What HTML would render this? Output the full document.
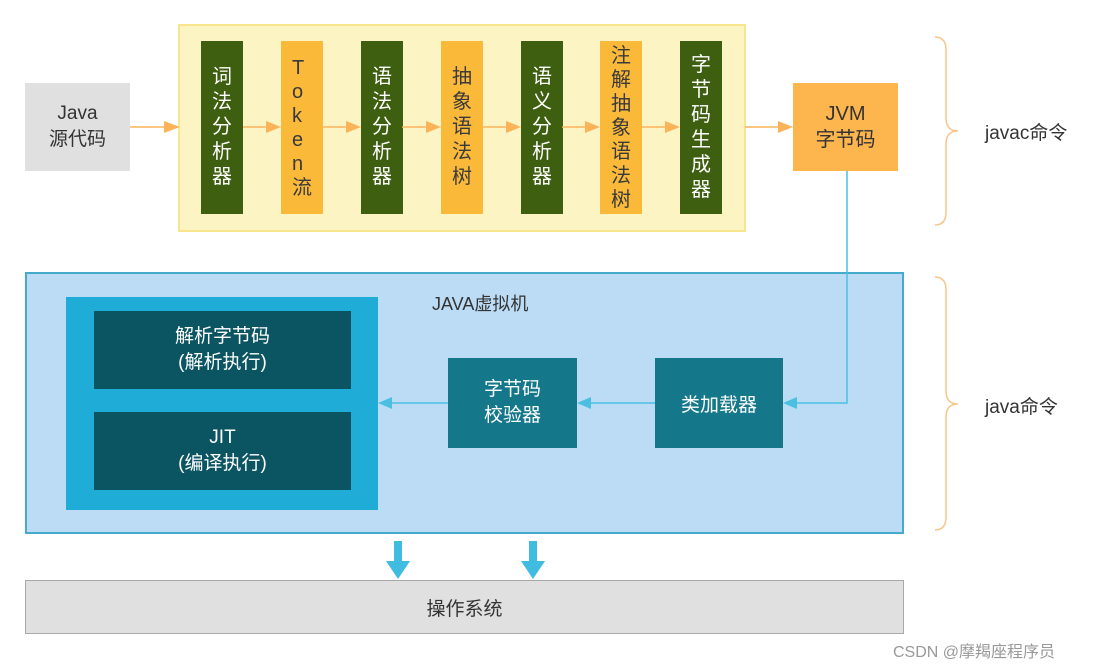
<!DOCTYPE html>
<html><head><meta charset="utf-8"><style>
body{margin:0;width:1098px;height:665px;background:#fff;position:relative;overflow:hidden;font-family:"Liberation Sans","Noto Sans CJK SC",sans-serif;}
.a{position:absolute;box-sizing:border-box;display:flex;align-items:center;justify-content:center;text-align:center;}
.col{position:absolute;top:41px;height:173px;width:42px;color:#fff;font-size:20px;line-height:25px;display:flex;flex-direction:column;align-items:center;justify-content:center;}
.g{background:#3e5f10;}
.o{background:#fbb93a;color:#3a3a3a;}
</style></head><body>
<div class="a" style="left:25px;top:83px;width:105px;height:88px;background:#e0e0e0;font-size:19px;line-height:26px;color:#333;">Java<br>源代码</div>
<div class="a" style="left:178px;top:24px;width:568px;height:208px;background:#fdf4c3;border:2px solid #f8e68c;"></div>
<div class="col g" style="left:201px">词<br>法<br>分<br>析<br>器</div>
<div class="col o" style="left:281px;line-height:24px">T<br>o<br>k<br>e<br>n<br>流</div>
<div class="col g" style="left:361px">语<br>法<br>分<br>析<br>器</div>
<div class="col o" style="left:441px">抽<br>象<br>语<br>法<br>树</div>
<div class="col g" style="left:521px">语<br>义<br>分<br>析<br>器</div>
<div class="col o" style="left:600px;line-height:24px">注<br>解<br>抽<br>象<br>语<br>法<br>树</div>
<div class="col g" style="left:680px">字<br>节<br>码<br>生<br>成<br>器</div>
<div class="a" style="left:793px;top:83px;width:105px;height:88px;background:#fdb54d;font-size:20px;line-height:26px;color:#333;">JVM<br>字节码</div>
<div class="a" style="left:25px;top:272px;width:879px;height:262px;background:#bcdcf6;border:2px solid #45aacb;"></div>
<div style="position:absolute;left:432px;top:290px;font-size:18px;color:#333;">JAVA虚拟机</div>
<div class="a" style="left:66px;top:297px;width:312px;height:213px;background:#1fadd8;"></div>
<div class="a" style="left:94px;top:311px;width:257px;height:78px;background:#0b5562;color:#fff;font-size:19px;line-height:26px;">解析字节码<br>(解析执行)</div>
<div class="a" style="left:94px;top:412px;width:257px;height:78px;background:#0b5562;color:#fff;font-size:19px;line-height:26px;">JIT<br>(编译执行)</div>
<div class="a" style="left:448px;top:358px;width:129px;height:90px;background:#15788a;color:#fff;font-size:19px;line-height:26px;">字节码<br>校验器</div>
<div class="a" style="left:655px;top:358px;width:128px;height:90px;background:#15788a;color:#fff;font-size:19px;">类加载器</div>
<div class="a" style="left:25px;top:580px;width:879px;height:54px;background:#e0e0e0;border:1px solid #a8a8a8;font-size:19px;color:#333;">操作系统</div>
<div style="position:absolute;left:985px;top:118px;font-size:19px;color:#333;">javac命令</div>
<div style="position:absolute;left:985px;top:392px;font-size:19px;color:#333;">java命令</div>
<div style="position:absolute;left:893px;top:638px;font-size:16px;color:#999;">CSDN @摩羯座程序员</div>
<svg style="position:absolute;left:0;top:0" width="1098" height="665">
<g stroke="#fbb35a" stroke-width="1.5" fill="#fbb35a">
<line x1="130" y1="127" x2="166" y2="127"/><polygon points="180,127 164,121 164,133" stroke="none"/>
<line x1="243" y1="127" x2="268" y2="127"/><polygon points="281,127 266,121 266,133" stroke="none"/>
<line x1="322" y1="127" x2="348" y2="127"/><polygon points="361,127 346,121 346,133" stroke="none"/>
<line x1="402" y1="127" x2="428" y2="127"/><polygon points="441,127 426,121 426,133" stroke="none"/>
<line x1="482" y1="127" x2="508" y2="127"/><polygon points="521,127 506,121 506,133" stroke="none"/>
<line x1="562" y1="127" x2="587" y2="127"/><polygon points="600,127 585,121 585,133" stroke="none"/>
<line x1="641" y1="127" x2="667" y2="127"/><polygon points="680,127 665,121 665,133" stroke="none"/>
<line x1="745" y1="127" x2="780" y2="127"/><polygon points="793,127 778,121 778,133" stroke="none"/>
</g>
<g stroke="#f6c78c" stroke-width="1.5" fill="none">
<path d="M935,37 Q946,37 946,50 L946,118 Q946,131 958,131 Q946,131 946,144 L946,212 Q946,225 935,225"/>
<path d="M935,277 Q946,277 946,290 L946,391 Q946,404 958,404 Q946,404 946,417 L946,517 Q946,530 935,530"/>
</g>
<g stroke="#4cbfe0" stroke-width="1.5" fill="#4cbfe0">
<polyline points="847,171 847,403 795,403" fill="none"/><polygon points="783,403 797,397 797,409" stroke="none"/>
<line x1="655" y1="403" x2="590" y2="403"/><polygon points="577,403 591,397 591,409" stroke="none"/>
<line x1="448" y1="403" x2="392" y2="403"/><polygon points="378,403 392,397 392,409" stroke="none"/>
</g>
<g fill="#3fbce0">
<rect x="394" y="541" width="8" height="22"/><polygon points="386,561 410,561 398,579"/>
<rect x="529" y="541" width="8" height="22"/><polygon points="521,561 545,561 533,579"/>
</g>
</svg>
</body></html>
